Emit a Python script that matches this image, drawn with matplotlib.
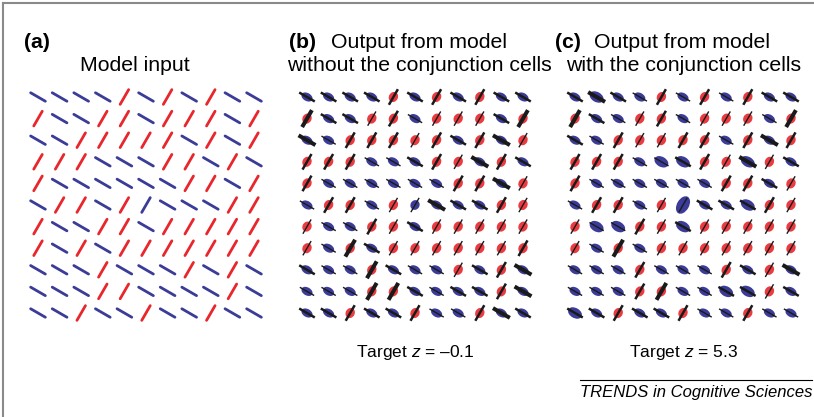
import matplotlib
matplotlib.use("Agg")
import matplotlib.pyplot as plt
from matplotlib.collections import LineCollection
from matplotlib.patches import Ellipse
import numpy as np

plt.rcParams['font.family'] = ['Liberation Sans', 'DejaVu Sans']
plt.rcParams['mathtext.fontset'] = 'custom'
plt.rcParams['mathtext.it'] = 'Liberation Sans:italic'
plt.rcParams['mathtext.rm'] = 'Liberation Sans'

# R = red "/" bar, B = blue "\" bar, T = target (blue, "/" orientation)
model_input = [
    "BBBBRBRBRBB",
    "RBBRRBRRRBR",
    "BBRRRRRBRBR",
    "RRRBBBRRBRB",
    "RBBBBBBRRBR",
    "BRRBRTBBBRR",
    "RBBRRBRRRRR",
    "RBRBRRRRRRR",
    "BBBRBBBRBRB",
    "BBBRRBBBBRB",
    "BBRBBRBBRBB",
]

# bar strength in the model output (1 weak .. 3 strong)
weight_b = [
    "22222222222",
    "32212111123",
    "31222122231",
    "22211221322",
    "21111112231",
    "12211132221",
    "11121211111",
    "11321111112",
    "21132111223",
    "11133212223",
    "22222211232",
]
weight_c = [
    "23212121222",
    "32112111113",
    "21211221232",
    "22211221312",
    "21111112221",
    "12211122221",
    "11121211111",
    "11311111111",
    "11121112213",
    "11123112212",
    "22222211211",
]
# size of the colour blob (1 normal, 2 large, 3 target)
blob_b = ["11111111111"] * 11
blob_c = [
    "12111111111",
    "11111111111",
    "11111111111",
    "11112211211",
    "11111111111",
    "11111311211",
    "12211211111",
    "11111111111",
    "11111111121",
    "11111112211",
    "21111111111",
]

titles = [("(a)", "", "Model input"),
          ("(b)", "Output from model", "without the conjunction cells"),
          ("(c)", "Output from model", "with the conjunction cells")]
targets = ["", "Target $z$ = \u20130.1", "Target $z$ = 5.3"]

RED = "#e8262c"
BLUE = "#3b3b98"

fig = plt.figure(figsize=(8.14, 4.17), dpi=100)
ax = fig.add_axes([0, 0, 1, 1])
ax.set_xlim(0, 814)
ax.set_ylim(417, 0)
ax.axis("off")

x0s = [38, 307, 575]
y0 = 97
step = 21.6


def bar(x, y, kind, length):
    ang = np.deg2rad(60 if kind in "RT" else -30)
    dx = np.cos(ang) * length / 2
    dy = np.sin(ang) * length / 2
    return [(x - dx, y + dy), (x + dx, y - dy)]


# panel a: plain coloured bars
segs, cols = [], []
for r, row in enumerate(model_input):
    for c, kind in enumerate(row):
        segs.append(bar(x0s[0] + c * step, y0 + r * step, kind, 17))
        cols.append(RED if kind == "R" else BLUE)
ax.add_collection(LineCollection(segs, colors=cols, linewidths=2.0,
                                 capstyle="round"))

# panels b and c: coloured blob with a black bar on top
for p, (weights, blobs) in enumerate([(weight_b, blob_b), (weight_c, blob_c)]):
    xs = x0s[p + 1]
    segs, lws = [], []
    for r, row in enumerate(model_input):
        for c, kind in enumerate(row):
            x = xs + c * step
            y = y0 + r * step
            w = int(weights[r][c])
            s = int(blobs[r][c])
            if kind == "R":
                e = Ellipse((x, y), 10.5, 9, angle=-60, color=RED, alpha=0.9, lw=0)
            elif kind == "T" and s == 3:
                e = Ellipse((x, y), 19, 12, angle=-60, color=BLUE, lw=0)
            elif kind == "T":
                e = Ellipse((x, y), 10, 9, angle=-60, color=BLUE, lw=0)
            else:
                big = 1.0 if s == 1 else 1.25
                e = Ellipse((x, y), 12 * big, 8 * big, angle=30, color=BLUE, lw=0)
            ax.add_patch(e)
            segs.append(bar(x, y, kind, 15 + 1.5 * w))
            lws.append({1: 1.0, 2: 1.8, 3: 2.9}[w])
    ax.add_collection(LineCollection(segs, colors="#1a1a1a", linewidths=lws,
                                     capstyle="butt", zorder=3))

# titles
fs = 15.3
ax.text(24, 42, titles[0][0], fontsize=fs, fontweight="bold", va="center")
ax.text(135, 65, titles[0][2], fontsize=fs, ha="center", va="center")
ax.text(289, 42, titles[1][0], fontsize=fs, fontweight="bold", va="center")
ax.text(331, 42, titles[1][1], fontsize=fs, va="center")
ax.text(419, 65, titles[1][2], fontsize=fs, ha="center", va="center")
ax.text(555, 42, titles[2][0], fontsize=fs, fontweight="bold", va="center")
ax.text(594, 42, titles[2][1], fontsize=fs, va="center")
ax.text(684, 65, titles[2][2], fontsize=fs, ha="center", va="center")

ax.text(x0s[1] + 5 * step, 353, targets[1], fontsize=12.5, ha="center", va="center")
ax.text(x0s[2] + 5 * step, 353, targets[2], fontsize=12.5, ha="center", va="center")

# journal footer
ax.plot([580, 812], [380, 380], color="black", lw=0.8)
ax.text(696, 393, "TRENDS in Cognitive Sciences", fontsize=12, style="italic",
        ha="center", va="center")

# frame (top and left edges)
ax.plot([3, 3], [417, 3], color="#8a8a8a", lw=1.5)
ax.plot([3, 814], [3, 3], color="#8a8a8a", lw=1.5)

fig.savefig("out.png", dpi=100)
